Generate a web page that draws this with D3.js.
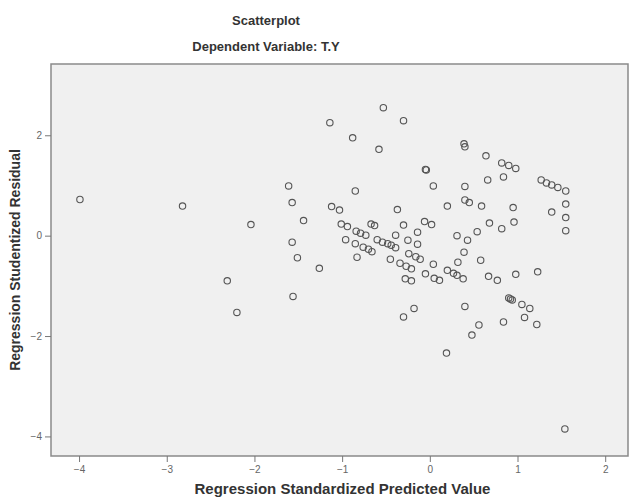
<!DOCTYPE html>
<html>
<head>
<meta charset="utf-8">
<script src="https://cdn.jsdelivr.net/npm/d3@7"></script>
<style>
  body { margin: 0; background: #fff; }
  svg text { font-family: "Liberation Sans", Arial, sans-serif; }
</style>
</head>
<body>
<div id="chart"></div>
<script>
/* values */
const predicted = [
  -3.99, -2.82, -2.04, -2.31, -2.20, -1.61, -1.57, -1.44, -1.57, -1.51,
  -1.56, -1.26, -1.14, -0.88, -0.53, -0.30, -0.58, -0.05, -0.04, 0.04,
  -0.85, 0.39, 0.40, 0.64, 0.82, 0.90, 0.98, 0.84, 0.66, 0.40,
  1.27, 1.33, 1.39, 1.46, 1.55, 1.55, 1.55, 1.55, 1.39, 0.95,
  0.96, 0.82, 0.68, 0.59, 0.40, 0.45, 0.20, -0.37, -0.30, -0.06,
  0.02, -0.14, -0.14, -0.25, -0.39, 0.31, 0.43, 0.54, -1.12, -1.03,
  -1.01, -0.94, -0.84, -0.79, -0.73, -0.67, -0.63, -0.96, -0.85, -0.76,
  -0.70, -0.66, -0.60, -0.54, -0.48, -0.44, -0.39, -0.83, -0.45, -0.24,
  -0.16, -0.11, -0.34, -0.27, -0.21, -0.28, -0.21, -0.05, 0.05, 0.11,
  0.04, 0.20, 0.27, 0.31, 0.38, 0.32, 0.58, 0.39, 0.67, 0.77,
  0.98, 1.23, -0.18, -0.30, 0.40, 0.90, 0.94, 0.92, 1.05, 1.14,
  1.08, 1.22, 0.84, 0.56, 0.48, 0.19, 1.54
];
const residual = [
  0.72, 0.59, 0.22, -0.90, -1.53, 0.99, 0.66, 0.30, -0.13, -0.44,
  -1.21, -0.65, 2.25, 1.95, 2.55, 2.29, 1.72, 1.32, 1.31, 0.99,
  0.89, 1.83, 1.77, 1.59, 1.45, 1.40, 1.34, 1.17, 1.11, 0.98,
  1.11, 1.05, 1.01, 0.96, 0.89, 0.63, 0.36, 0.10, 0.47, 0.56,
  0.27, 0.14, 0.25, 0.59, 0.71, 0.66, 0.59, 0.52, 0.21, 0.28,
  0.22, 0.07, -0.17, -0.09, 0.01, 0.00, -0.09, 0.08, 0.58, 0.51,
  0.23, 0.18, 0.09, 0.05, 0.01, 0.23, 0.20, -0.08, -0.16, -0.23,
  -0.27, -0.32, -0.08, -0.13, -0.16, -0.19, -0.24, -0.43, -0.47, -0.36,
  -0.42, -0.47, -0.55, -0.61, -0.66, -0.86, -0.90, -0.76, -0.85, -0.89,
  -0.57, -0.69, -0.75, -0.79, -0.86, -0.53, -0.49, -0.33, -0.81, -0.89,
  -0.77, -0.72, -1.45, -1.62, -1.41, -1.24, -1.28, -1.26, -1.37, -1.45,
  -1.63, -1.77, -1.72, -1.78, -1.98, -2.34, -3.85
];
const xTicks = [-4, -3, -2, -1, 0, 1, 2];
const yTicks = [-4, -2, 0, 2];
const chartTitle = "Scatterplot";
const chartSubtitle = "Dependent Variable: T.Y";
const xTitle = "Regression Standardized Predicted Value";
const yTitle = "Regression Studentized Residual";

const points = predicted.map((p, i) => ({ x: p, y: residual[i] }));

/* svg setup */
const width = 629, height = 502;
const plot = { left: 51, top: 64, right: 628, bottom: 456 };

const svg = d3.select("#chart").append("svg")
  .attr("width", width)
  .attr("height", height);

const x = d3.scaleLinear().domain([-4.32, 2.26]).range([plot.left, plot.right]);
const y = d3.scaleLinear().domain([-4.39, 3.42]).range([plot.bottom, plot.top]);

/* plot background + frame */
svg.append("rect")
  .attr("x", plot.left).attr("y", plot.top)
  .attr("width", plot.right - plot.left)
  .attr("height", plot.bottom - plot.top)
  .attr("fill", "#f0f0f0")
  .attr("stroke", "#8a8a8a")
  .attr("stroke-width", 1.5);

/* axes */
svg.append("g")
  .attr("transform", `translate(0,${plot.bottom})`)
  .call(d3.axisBottom(x).tickValues(xTicks).tickSize(6).tickPadding(4).tickFormat(d3.format("d")))
  .call((g) => g.select(".domain").remove())
  .call((g) => g.selectAll("line").attr("stroke", "#777"))
  .selectAll("text")
  .attr("fill", "#666")
  .style("font-size", "10px");

svg.append("g")
  .attr("transform", `translate(${plot.left},0)`)
  .call(d3.axisLeft(y).tickValues(yTicks).tickSize(6).tickPadding(3).tickFormat(d3.format("d")))
  .call((g) => g.select(".domain").remove())
  .call((g) => g.selectAll("line").attr("stroke", "#777"))
  .selectAll("text")
  .attr("fill", "#666")
  .style("font-size", "10px");

/* points */
svg.append("g")
  .selectAll("circle")
  .data(points)
  .enter()
  .append("circle")
  .attr("cx", (d) => x(d.x))
  .attr("cy", (d) => y(d.y))
  .attr("r", 3.2)
  .attr("fill", "none")
  .attr("stroke", "#555")
  .attr("stroke-width", 1.1);

/* titles */
svg.append("text")
  .attr("x", 266).attr("y", 25)
  .attr("text-anchor", "middle")
  .attr("font-weight", "bold")
  .attr("fill", "#333")
  .style("font-size", "13px")
  .text(chartTitle);

svg.append("text")
  .attr("x", 266).attr("y", 51)
  .attr("text-anchor", "middle")
  .attr("font-weight", "bold")
  .attr("fill", "#333")
  .style("font-size", "13px")
  .text(chartSubtitle);

svg.append("text")
  .attr("x", (plot.left + plot.right) / 2 + 3).attr("y", 494)
  .attr("text-anchor", "middle")
  .attr("font-weight", "bold")
  .attr("fill", "#333")
  .style("font-size", "15px")
  .text(xTitle);

svg.append("text")
  .attr("transform", `translate(20,${(plot.top + plot.bottom) / 2}) rotate(-90)`)
  .attr("text-anchor", "middle")
  .attr("font-weight", "bold")
  .attr("fill", "#333")
  .style("font-size", "14px")
  .text(yTitle);
</script>
</body>
</html>
